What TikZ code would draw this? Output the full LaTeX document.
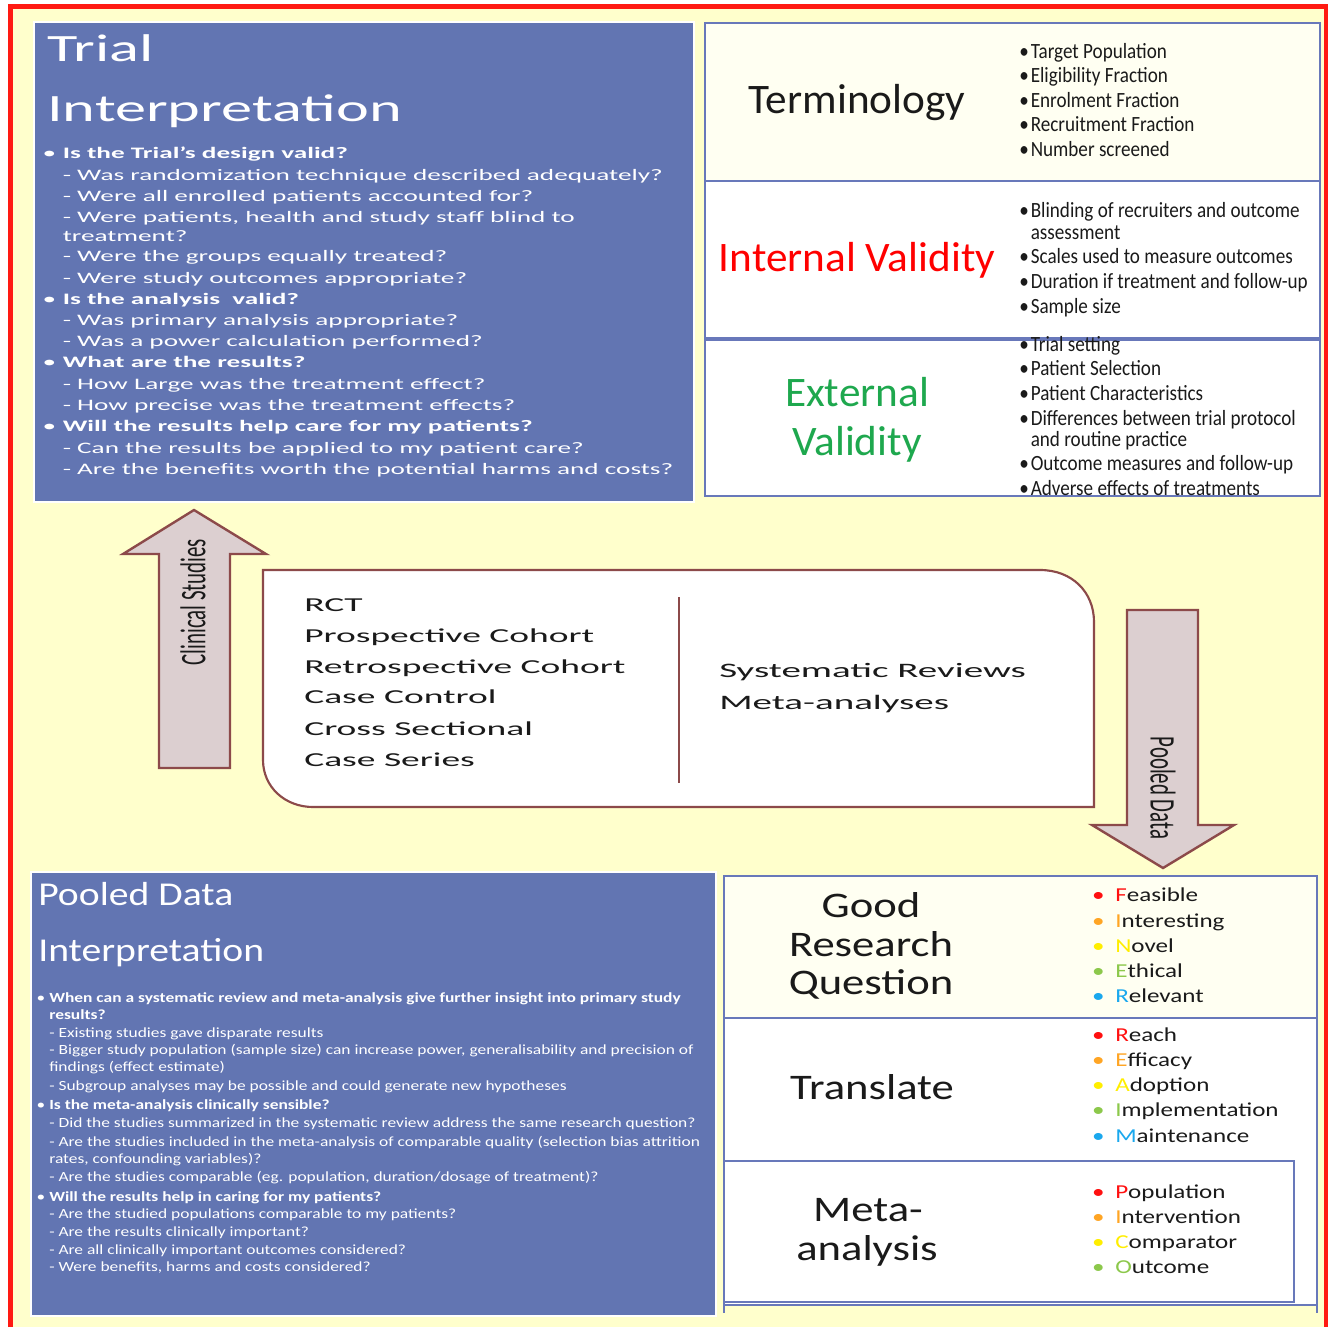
\documentclass[tikz,border=0pt]{standalone}
\usepackage{fontspec}
\setmainfont{Carlito}
\newfontfamily\fTT[FakeStretch=1.61]{Carlito}
\newfontfamily\fTB[FakeStretch=1.70]{Carlito}
\newfontfamily\fMid[FakeStretch=1.9]{Carlito}
\newfontfamily\fArr[FakeStretch=0.58]{Carlito}
\newfontfamily\fPT[FakeStretch=1.19]{Carlito}
\newfontfamily\fPB[FakeStretch=1.245]{Carlito}
\newfontfamily\fTRL[FakeStretch=1.03]{Carlito}
\newfontfamily\fTRB[FakeStretch=0.88]{Carlito}
\newfontfamily\fBRL[FakeStretch=1.24]{Carlito}
\newfontfamily\fBRB[FakeStretch=1.27]{Carlito}
\definecolor{bgyellow}{HTML}{FFFFCC}
\definecolor{boxblue}{HTML}{6275B2}
\definecolor{frameblue}{HTML}{6878BA}
\definecolor{cream}{HTML}{FFFFF2}
\definecolor{arrfill}{HTML}{DCCFD0}
\definecolor{arrdraw}{HTML}{8C4A4A}
\definecolor{extgreen}{HTML}{1EA84E}
\definecolor{redframe}{HTML}{FF1A12}
\definecolor{cR}{HTML}{FF1010}
\definecolor{cO}{HTML}{FFA524}
\definecolor{cY}{HTML}{FFEE00}
\definecolor{cG}{HTML}{8CC84B}
\definecolor{cB}{HTML}{1AA8EE}
\definecolor{ink}{HTML}{1A1A1A}
\tikzset{
  lbl/.style={inner sep=0pt, anchor=mid west},
  trtitle/.style={lbl, yshift=-7.5pt, text=white, font=\fTT\fontsize{29}{30}\selectfont},
  trbody/.style={lbl, yshift=-1pt, text=white, font=\fTB\fontsize{12}{13}\selectfont},
  pdtitle/.style={lbl, yshift=-5pt, text=white, font=\fPT\fontsize{25}{26}\selectfont},
  pdbody/.style={lbl, yshift=-0.8pt, text=white, font=\fPB\fontsize{10.5}{11}\selectfont},
  biglabel/.style={inner sep=0pt, anchor=mid, yshift=-7.5pt, font=\fTRL\fontsize{31.5}{32}\selectfont},
  trbul/.style={lbl, yshift=-2.2pt, text=ink, font=\fTRB\fontsize{16.3}{17}\selectfont},
  brlabel/.style={inner sep=0pt, anchor=mid, yshift=-6.5pt, text=ink, font=\fBRL\fontsize{27}{28}\selectfont},
  brbul/.style={lbl, yshift=-3pt, text=ink, font=\fBRB\fontsize{14.8}{15}\selectfont},
  midtext/.style={lbl, yshift=-2.2pt, text=ink, font=\fMid\fontsize{14.8}{15}\selectfont},
  midtextR/.style={lbl, yshift=-2.2pt, text=ink, font=\fMid\fontsize{15.4}{16}\selectfont},
  arrtext/.style={inner sep=0pt, anchor=center, text=ink, font=\fArr\fontsize{27}{28}\selectfont},
  bluebox/.style={draw=white, line width=2pt, fill=boxblue},
  framebox/.style={draw=frameblue, line width=2.2pt},
  blockarrow/.style={draw=arrdraw, line width=1.8pt, fill=arrfill, line join=miter},
  midbox/.style={draw=arrdraw, line width=1.6pt, fill=white}
}
\newcommand{\bul}[1]{\llap{\textcolor{#1}{•}\kern 8pt}}
\begin{document}
\begin{tikzpicture}[x=0.75pt,y=-0.75pt]
\useasboundingbox (0,0) rectangle (1333,1327);
\fill[white] (0,0) rectangle (1333,1327);
\fill[bgyellow] (12,9) rectangle (1324,1327);
\draw[redframe, line width=3.5pt] (10.5,1327) -- (10.5,6.5) -- (1326,6.5) -- (1326,1327);

% ---------- Trial interpretation box ----------
\draw[bluebox] (34,22) rectangle (694,502);
\node[trtitle] (tt1) at (47,48) {Trial};
\node[trtitle] (tt2) at (47,108) {Interpretation};
\foreach \yy/\tx [count=\i] in {
  154/{\llap{•\kern 5pt}\textbf{Is the Trial’s design valid?}},
  176/{- Was randomization technique described adequately?},
  197/{- Were all enrolled patients accounted for?},
  218/{- Were patients, health and study staff blind to},
  237/{treatment?},
  257/{- Were the groups equally treated?},
  279/{- Were study outcomes appropriate?},
  300/{\llap{•\kern 5pt}\textbf{Is the analysis\ \ valid?}},
  321/{- Was primary analysis appropriate?},
  342/{- Was a power calculation performed?},
  363/{\llap{•\kern 5pt}\textbf{What are the results?}},
  385/{- How Large was the treatment effect?},
  406/{- How precise was the treatment effects?},
  427/{\llap{•\kern 5pt}\textbf{Will the results help care for my patients?}},
  449/{- Can the results be applied to my patient care?},
  470/{- Are the benefits worth the potential harms and costs?}}
  \node[trbody] (tb\i) at (62.5,\yy) {\tx};

% ---------- Top right boxes ----------
\draw[framebox, fill=cream] (705,23) rectangle (1320,181);
\draw[framebox, fill=white] (705,181) rectangle (1320,338);
\draw[framebox, fill=white] (705,340) rectangle (1320,496);
\node[biglabel, text=ink] (term) at (857,100) {Terminology};
\node[biglabel, text=red] (intv) at (857,258) {Internal Validity};
\node[biglabel, text=extgreen] (ext1) at (857,393) {External};
\node[biglabel, text=extgreen] (ext2) at (857,442) {Validity};
\foreach \yy/\tx [count=\i] in {
  52/{\llap{•\kern 1.5pt}Target Population},
  76/{\llap{•\kern 1.5pt}Eligibility Fraction},
  101/{\llap{•\kern 1.5pt}Enrolment Fraction},
  125/{\llap{•\kern 1.5pt}Recruitment Fraction},
  150/{\llap{•\kern 1.5pt}Number screened},
  211/{\llap{•\kern 1.5pt}Blinding of recruiters and outcome},
  233/{assessment},
  257/{\llap{•\kern 1.5pt}Scales used to measure outcomes},
  282/{\llap{•\kern 1.5pt}Duration if treatment and follow-up},
  307/{\llap{•\kern 1.5pt}Sample size},
  345/{\llap{•\kern 1.5pt}Trial setting},
  369/{\llap{•\kern 1.5pt}Patient Selection},
  394/{\llap{•\kern 1.5pt}Patient Characteristics},
  419/{\llap{•\kern 1.5pt}Differences between trial protocol},
  440/{and routine practice},
  464/{\llap{•\kern 1.5pt}Outcome measures and follow-up},
  489/{\llap{•\kern 1.5pt}Adverse effects of treatments}}
  \node[trbul] (trb\i) at (1030.5,\yy) {\tx};

% ---------- Middle ----------
\draw[blockarrow] (159,768) -- (159,554) -- (123,554) -- (194,510) -- (266,554) -- (230,554) -- (230,768) -- cycle;
\node[arrtext, rotate=90] (clin) at (193,602) {Clinical Studies};
\draw[midbox] (263,570) -- (1040,570) .. controls (1072,570) and (1094,592) .. (1094,622) -- (1094,807) -- (313,807) .. controls (285,807) and (263,787) .. (263,760) -- cycle;
\coordinate (divtop) at (679,597);
\coordinate (divbot) at (679,783);
\draw[arrdraw, line width=1.6pt] (divtop) -- (divbot);
\foreach \yy/\tx [count=\i] in {
  605/{RCT},
  636/{Prospective Cohort},
  667/{Retrospective Cohort},
  697/{Case Control},
  729/{Cross Sectional},
  760/{Case Series}}
  \node[midtext] (ml\i) at (304,\yy) {\tx};
\node[midtextR] (mr1) at (719,671) {Systematic Reviews};
\node[midtextR] (mr2) at (719,703) {Meta-analyses};
\draw[blockarrow] (1127,610) -- (1198,610) -- (1198,825) -- (1234,825) -- (1163,868) -- (1092,825) -- (1127,825) -- cycle;
\node[arrtext, rotate=-90] (pool) at (1163,788) {Pooled Data};

% ---------- Pooled data box ----------
\draw[bluebox] (31,872) rectangle (716,1316);
\node[pdtitle] (pt1) at (38,896) {Pooled Data};
\node[pdtitle] (pt2) at (38,952) {Interpretation};
\foreach \yy/\tx [count=\i] in {
  998/{\llap{•\kern 3pt}\textbf{When can a systematic review and meta-analysis give further insight into primary study}},
  1015/{\textbf{results?}},
  1033/{- Existing studies gave disparate results},
  1050/{- Bigger study population (sample size) can increase power, generalisability and precision of},
  1067/{findings (effect estimate)},
  1086/{- Subgroup analyses may be possible and could generate new hypotheses},
  1105/{\llap{•\kern 3pt}\textbf{Is the meta-analysis clinically sensible?}},
  1123/{- Did the studies summarized in the systematic review address the same research question?},
  1142/{- Are the studies included in the meta-analysis of comparable quality (selection bias attrition},
  1159/{rates, confounding variables)?},
  1177/{- Are the studies comparable (eg. population, duration/dosage of treatment)?},
  1197/{\llap{•\kern 3pt}\textbf{Will the results help in caring for my patients?}},
  1214/{- Are the studied populations comparable to my patients?},
  1232/{- Are the results clinically important?},
  1250/{- Are all clinically important outcomes considered?},
  1267/{- Were benefits, harms and costs considered?}}
  \node[pdbody] (pb\i) at (49,\yy) {\tx};

% ---------- Bottom right boxes ----------
\draw[framebox, fill=cream] (724,876) rectangle (1317,1018);
\draw[framebox, fill=white] (724,1018) rectangle (1317,1305);
\draw[framebox] (724,1305) -- (724,1313);
\draw[framebox] (1317,1305) -- (1317,1313);
\draw[framebox, fill=white] (724,1161) rectangle (1294,1302);
\node[brlabel] (g1) at (871,906) {Good};
\node[brlabel] (g2) at (871,945) {Research};
\node[brlabel] (g3) at (871,983) {Question};
\node[brlabel] (tr) at (872,1088) {Translate};
\node[brlabel] (ma1) at (868,1210) {Meta-};
\node[brlabel] (ma2) at (867,1249) {analysis};
\foreach \yy/\cc/\ff/\rr [count=\i] in {
  894/cR/F/easible, 920/cO/I/nteresting, 945/cY/N/ovel, 970/cG/E/thical, 995/cB/R/elevant,
  1034/cR/R/each, 1059/cO/E/fficacy, 1084/cY/A/doption, 1109/cG/I/mplementation, 1135/cB/M/aintenance,
  1191/cR/P/opulation, 1216/cO/I/ntervention, 1241/cY/C/omparator, 1266/cG/O/utcome}
  \node[brbul] (brb\i) at (1115,\yy) {\bul{\cc}\textcolor{\cc}{\ff}\rr};
\end{tikzpicture}
\end{document}
